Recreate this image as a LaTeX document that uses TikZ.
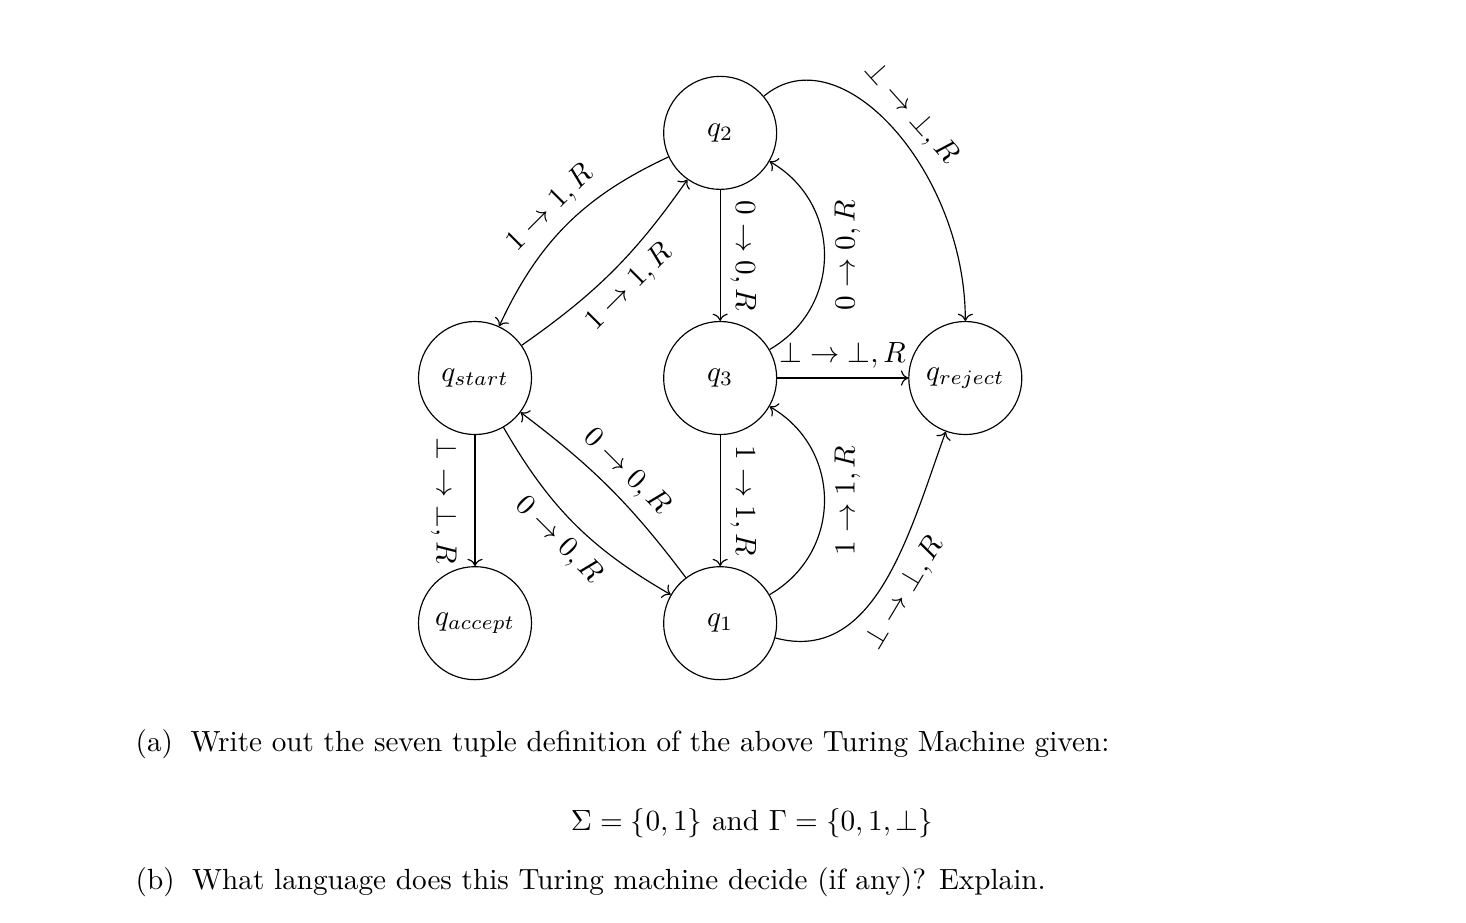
\documentclass[tikz,border=0pt]{standalone}
\usepackage{amsmath,amssymb}
\usetikzlibrary{arrows.meta,positioning}

\begin{document}
\begin{tikzpicture}[node distance=2.95cm, on grid,
  st/.style={circle, draw, minimum size=1.36cm, inner sep=0pt},
  arr/.style={->}, lbl/.style={sloped}]
\useasboundingbox (-5.716,-6.546) rectangle (11.925,4.549);
\node[st] (qstart) {$q_{start}$};
\node[st, right=of qstart] (q3) {$q_3$};
\node[st, above=of q3] (q2) {$q_2$};
\node[st, right=of q3] (qrej) {$q_{reject}$};
\node[st, below=of q3] (q1) {$q_1$};
\node[st, below=of qstart] (qacc) {$q_{accept}$};
\draw[arr] (q2) to[bend right=20] node[lbl, above] {$1\to 1,R$} (qstart);
\draw[arr] (qstart) to[bend right=10] node[lbl, below] {$1\to 1,R$} (q2);
\draw[arr] (q2) -- node[lbl, above] {$0\to 0,R$} (q3);
\draw[arr] (q3) to[bend right=60, looseness=1.15] node[lbl, below] {$0\to 0,R$} (q2);
\draw[arr] (q3) -- node[lbl, above] {$\bot\to\bot,R$} (qrej);
\draw[arr] (q2) to[out=40, in=90, out distance=1.2cm, in distance=1.8cm] node[lbl, above] {$\bot\to\bot,R$} (qrej);
\draw[arr] (q3) -- node[lbl, above] {$1\to 1,R$} (q1);
\draw[arr] (q1) to[bend right=60, looseness=1.15] node[lbl, below] {$1\to 1,R$} (q3);
\draw[arr] (q1) to[out=-15, in=250] node[lbl, below] {$\bot\to\bot,R$} (qrej);
\draw[arr] (qstart) to[bend right=15] node[lbl, below] {$0\to 0,R$} (q1);
\draw[arr] (q1) to[bend right=8] node[lbl, above] {$0\to 0,R$} (qstart);
\draw[arr] (qstart) -- node[lbl, below, inner sep=6pt] {$\bot\to\bot,R$} (qacc);
% questions under the machine
\node[anchor=base west, inner sep=0pt] (parta) at (-4.09,-4.50)
  {(a)\hspace{0.6em}Write out the seven tuple definition of the above Turing Machine given:};
\node[anchor=base, inner sep=0pt] (sigma) at (3.333,-5.44)
  {$\Sigma = \{0,1\}$ and $\Gamma = \{0,1,\bot\}$};
\node[anchor=base west, inner sep=0pt] (partb) at (-4.09,-6.16)
  {(b)\hspace{0.6em}What language does this Turing machine decide (if any)? Explain.};
\end{tikzpicture}
\end{document}
